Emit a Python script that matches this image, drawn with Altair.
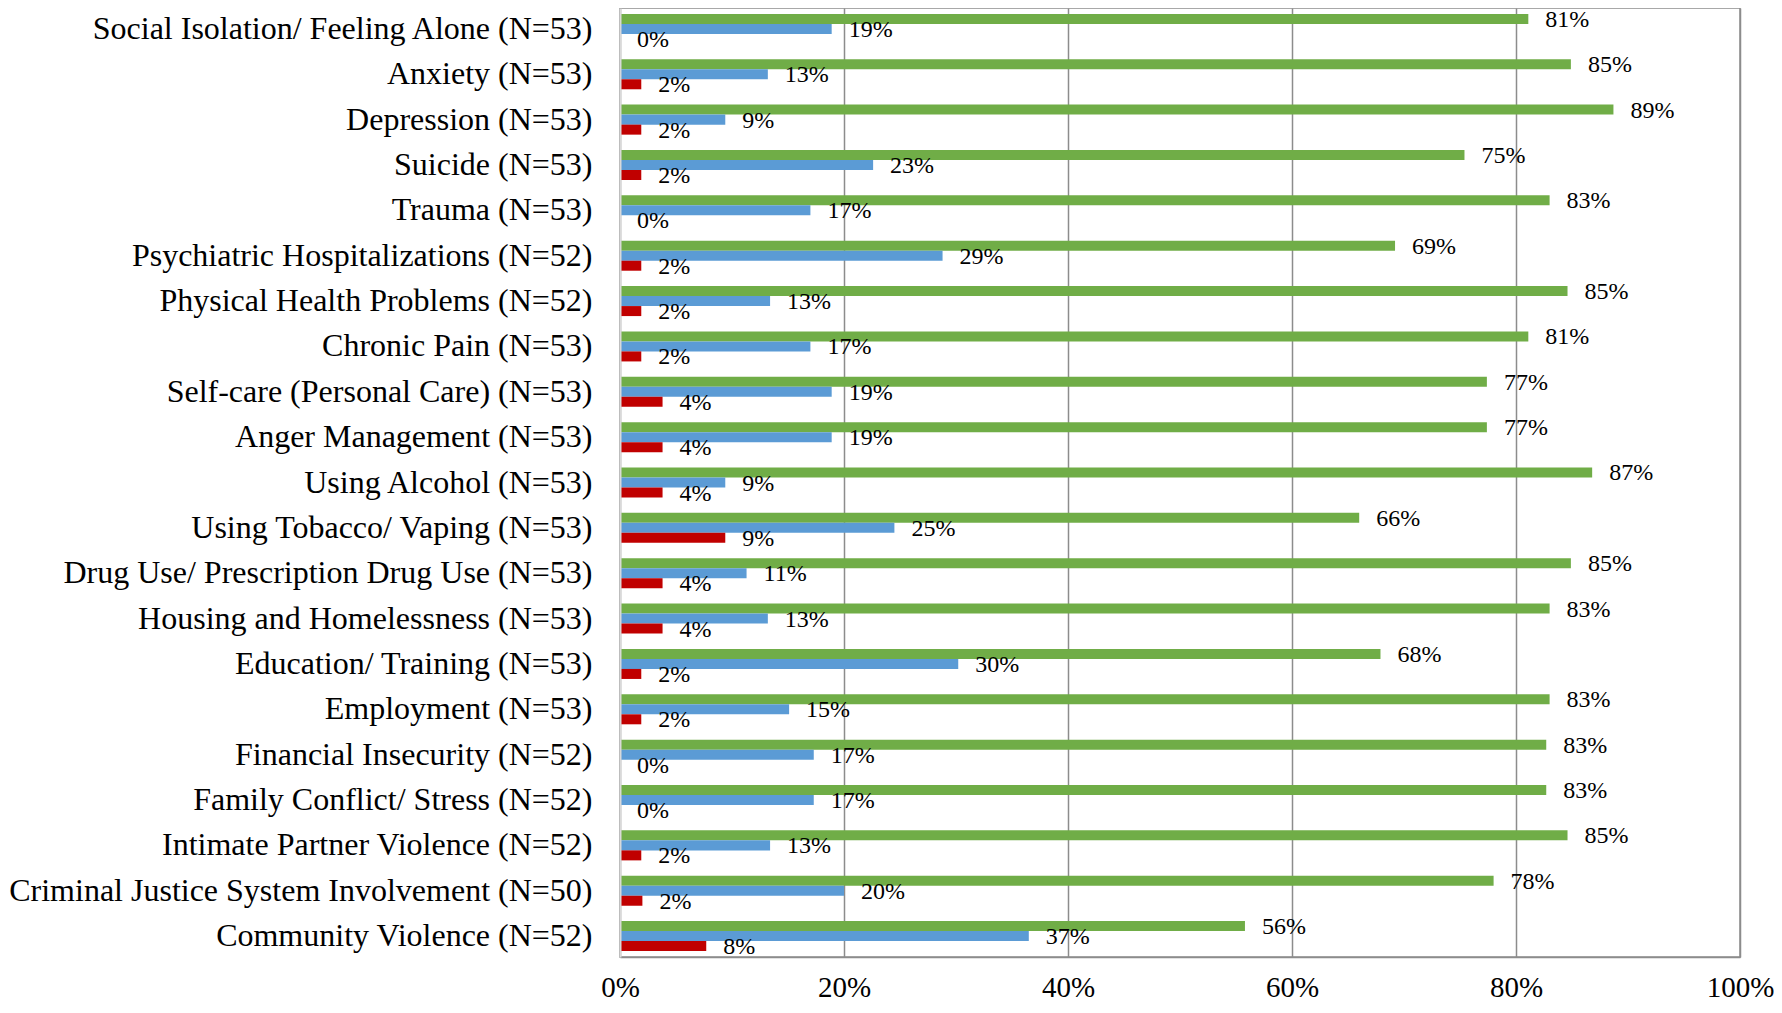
import altair as alt
import pandas as pd

categories = [
    "Social Isolation/ Feeling Alone (N=53)",
    "Anxiety (N=53)",
    "Depression (N=53)",
    "Suicide (N=53)",
    "Trauma (N=53)",
    "Psychiatric Hospitalizations (N=52)",
    "Physical Health Problems (N=52)",
    "Chronic Pain (N=53)",
    "Self-care (Personal Care) (N=53)",
    "Anger Management (N=53)",
    "Using Alcohol (N=53)",
    "Using Tobacco/ Vaping (N=53)",
    "Drug Use/ Prescription Drug Use (N=53)",
    "Housing and Homelessness (N=53)",
    "Education/ Training (N=53)",
    "Employment (N=53)",
    "Financial Insecurity (N=52)",
    "Family Conflict/ Stress (N=52)",
    "Intimate Partner Violence (N=52)",
    "Criminal Justice System Involvement (N=50)",
    "Community Violence (N=52)",
]

green_vals = [81.1, 84.9, 88.7, 75.4, 83.0, 69.2, 84.6, 81.1, 77.4, 77.4, 86.8,
              66.0, 84.9, 83.0, 67.9, 83.0, 82.7, 82.7, 84.6, 78.0, 55.8]
blue_vals = [18.9, 13.2, 9.4, 22.6, 17.0, 28.8, 13.4, 17.0, 18.9, 18.9, 9.4,
             24.5, 11.3, 13.2, 30.2, 15.1, 17.3, 17.3, 13.4, 20.0, 36.5]
red_vals = [0.0, 1.9, 1.9, 1.9, 0.0, 1.9, 1.9, 1.9, 3.8, 3.8, 3.8,
            9.4, 3.8, 3.8, 1.9, 1.9, 0.0, 0.0, 1.9, 2.0, 7.7]

series_names = ["Series A", "Series B", "Series C"]
series_colors = ["#70AD47", "#5B9BD5", "#C00000"]
x_ticks = [0, 20, 40, 60, 80, 100]

rows = []
for cat, g, b, r in zip(categories, green_vals, blue_vals, red_vals):
    for s, v in zip(series_names, (g, b, r)):
        rows.append({"category": cat, "series": s, "value": v,
                     "label": f"{int(v + 0.5)}%"})
df = pd.DataFrame(rows)

FONT = "Liberation Serif"

base = alt.Chart(df).encode(
    y=alt.Y(
        "category:N",
        sort=categories,
        title=None,
        scale=alt.Scale(paddingInner=0.338, paddingOuter=0.13),
        axis=alt.Axis(
            labelFont=FONT,
            labelFontSize=32,
            labelColor="black",
            labelPadding=28,
            labelLimit=800,
            ticks=False,
            domainColor="#D9D9D9",
            domainWidth=2,
            grid=False,
            zindex=1,
        ),
    ),
    yOffset=alt.YOffset(
        "series:N",
        sort=series_names,
        scale=alt.Scale(paddingInner=0, paddingOuter=0),
    ),
)

bars = base.mark_bar().encode(
    x=alt.X(
        "value:Q",
        title=None,
        scale=alt.Scale(domain=[0, 100], nice=False),
        axis=alt.Axis(
            values=x_ticks,
            labelExpr="datum.value + '%'",
            labelFont=FONT,
            labelFontSize=29,
            labelColor="black",
            labelBaseline="alphabetic",
            labelPadding=39,
            labelFlush=False,
            ticks=False,
            tickSize=0,
            grid=True,
            gridColor="#8C8C8C",
            gridWidth=1.5,
            domainColor="#8C8C8C",
            domainWidth=1.5,
        ),
    ),
    color=alt.Color(
        "series:N",
        scale=alt.Scale(domain=series_names, range=series_colors),
        legend=None,
    ),
)

labels = base.mark_text(
    align="left",
    baseline="middle",
    dx=17,
    dy=1,
    font=FONT,
    fontSize=24,
    color="black",
).encode(
    x=alt.X("value:Q"),
    text=alt.Text("label:N"),
)

chart = (
    alt.layer(bars, labels)
    .properties(
        width=1120,
        height=949,
        autosize=alt.AutoSizeParams(type="none"),
        padding={"left": 612, "top": 0, "right": 34, "bottom": 44},
        background="white",
    )
    .configure_view(stroke="#8C8C8C", strokeWidth=1.5)
)

chart.save("out.html", embed_options={"renderer": "svg", "actions": False})
